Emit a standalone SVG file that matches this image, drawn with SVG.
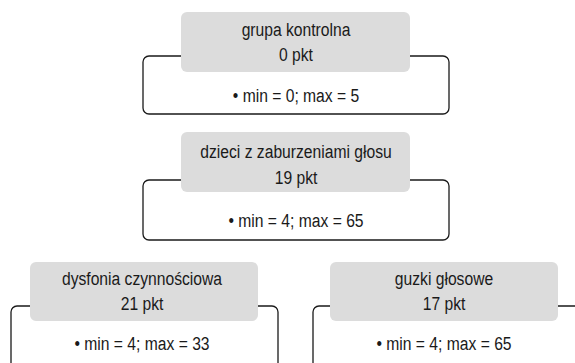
<svg xmlns="http://www.w3.org/2000/svg" width="575" height="363" viewBox="0 0 575 363">
<style>
.frame{fill:#ffffff;stroke:#1a1a1a;stroke-width:1.3}
.head{fill:#dcdcdc;stroke:none}
text{font-family:"Liberation Sans",Arial,sans-serif;font-size:18px;fill:#1a1a1a;text-anchor:middle}
</style>
<rect width="575" height="363" fill="#ffffff"/>
<g id="node-kontrolna">
<rect class="frame" x="143" y="56" width="306" height="58" rx="6"/>
<rect class="head" x="181" y="12" width="229" height="60" rx="6"/>
<text transform="translate(296,36) scale(0.87,1)">grupa kontrolna</text>
<text transform="translate(296,61) scale(0.87,1)">0 pkt</text>
<text transform="translate(296,102) scale(0.87,1)">• min = 0; max = 5</text>
</g>
<g id="node-dzieci">
<rect class="frame" x="143" y="180" width="306" height="60" rx="6"/>
<rect class="head" x="181" y="132" width="229" height="60" rx="6"/>
<text transform="translate(296,158) scale(0.87,1)">dzieci z zaburzeniami głosu</text>
<text transform="translate(296,184) scale(0.87,1)">19 pkt</text>
<text transform="translate(296,227) scale(0.87,1)">• min = 4; max = 65</text>
</g>
<g id="node-dysfonia">
<rect class="frame" x="11" y="306" width="267" height="80" rx="6"/>
<rect class="head" x="30" y="262" width="228" height="59" rx="6"/>
<text transform="translate(142,285) scale(0.87,1)">dysfonia czynnościowa</text>
<text transform="translate(142,310) scale(0.87,1)">21 pkt</text>
<text transform="translate(142,350) scale(0.87,1)">• min = 4; max = 33</text>
</g>
<g id="node-guzki">
<rect class="frame" x="313" y="306" width="280" height="80" rx="6"/>
<rect class="head" x="330" y="262" width="228" height="59" rx="6"/>
<text transform="translate(444,285) scale(0.87,1)">guzki głosowe</text>
<text transform="translate(444,310) scale(0.87,1)">17 pkt</text>
<text transform="translate(444,350) scale(0.87,1)">• min = 4; max = 65</text>
</g>
<g id="connectors"></g>
</svg>
